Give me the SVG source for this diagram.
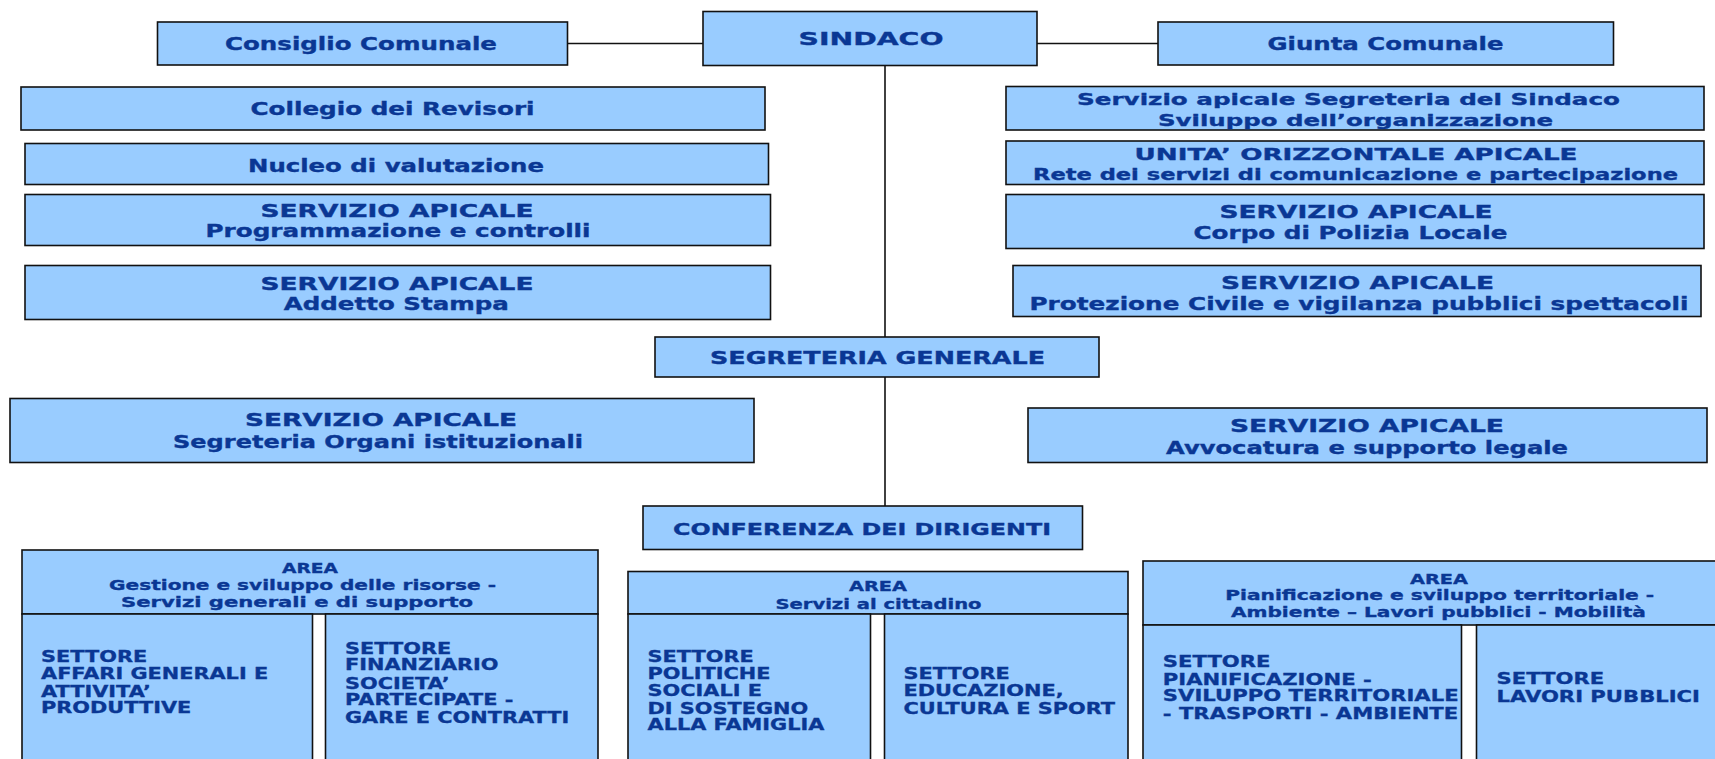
<svg xmlns="http://www.w3.org/2000/svg" width="1715" height="759" viewBox="0 0 1715 759">
<style>
.b{fill:#99ccff;stroke:#111;stroke-width:1.6}
.t{font-family:"DejaVu Sans",Verdana,sans-serif;font-weight:bold;fill:#0a3794;stroke:#0a3794;stroke-width:0.35;text-anchor:middle}
.s{font-family:"DejaVu Sans",Verdana,sans-serif;font-weight:bold;fill:#0a3794;stroke:#0a3794;stroke-width:0.3;font-size:15px}
.c{stroke:#111;stroke-width:1.6;fill:none}
</style>
<rect width="1715" height="759" fill="#fff"/>
<g id="connectors">
<line class="c" x1="567" y1="43.5" x2="703" y2="43.5"/>
<line class="c" x1="1037" y1="43.5" x2="1158" y2="43.5"/>
<line class="c" x1="885" y1="65" x2="885" y2="337"/>
<line class="c" x1="885" y1="377" x2="885" y2="506"/>
</g>
<g id="consiglio"><rect class="b" x="157.5" y="22" width="410" height="43"/><text class="t" font-size="17.5" x="361" y="50" textLength="272" lengthAdjust="spacingAndGlyphs">Consiglio Comunale</text></g>
<g id="sindaco"><rect class="b" x="703" y="11.5" width="334" height="54"/><text class="t" font-size="18.5" x="871" y="45" textLength="145" lengthAdjust="spacingAndGlyphs">SINDACO</text></g>
<g id="giunta"><rect class="b" x="1158" y="22" width="455.5" height="43"/><text class="t" font-size="17.5" x="1385.5" y="50" textLength="236" lengthAdjust="spacingAndGlyphs">Giunta Comunale</text></g>
<g id="collegio"><rect class="b" x="21" y="87" width="744" height="43"/><text class="t" font-size="17.5" x="392.5" y="115" textLength="284" lengthAdjust="spacingAndGlyphs">Collegio dei Revisori</text></g>
<g id="nucleo"><rect class="b" x="25" y="143.5" width="743.5" height="41"/><text class="t" font-size="17.5" x="396" y="171.5" textLength="296" lengthAdjust="spacingAndGlyphs">Nucleo di valutazione</text></g>
<g id="programmazione"><rect class="b" x="25" y="194.5" width="745.5" height="51"/><text class="t" font-size="17.5" x="397" y="216.8" textLength="273" lengthAdjust="spacingAndGlyphs">SERVIZIO APICALE</text><text class="t" font-size="17.5" x="398" y="237" textLength="385" lengthAdjust="spacingAndGlyphs">Programmazione e controlli</text></g>
<g id="stampa"><rect class="b" x="25" y="265.5" width="745.5" height="54"/><text class="t" font-size="17.5" x="397" y="289.8" textLength="273" lengthAdjust="spacingAndGlyphs">SERVIZIO APICALE</text><text class="t" font-size="17.5" x="396.3" y="310.3" textLength="225" lengthAdjust="spacingAndGlyphs">Addetto Stampa</text></g>
<g id="segreteria-sindaco"><rect class="b" x="1006" y="86.5" width="698" height="43.5"/><text class="t" font-size="16.5" x="1348.5" y="105" textLength="543" lengthAdjust="spacingAndGlyphs">Servizio apicale Segreteria del Sindaco</text><text class="t" font-size="16.5" x="1355.5" y="126" textLength="395" lengthAdjust="spacingAndGlyphs">Sviluppo dell’organizzazione</text></g>
<g id="unita"><rect class="b" x="1006" y="141" width="698" height="43.5"/><text class="t" font-size="16.5" x="1356" y="159.8" textLength="443" lengthAdjust="spacingAndGlyphs">UNITA’ ORIZZONTALE APICALE</text><text class="t" font-size="16" x="1355.5" y="179.5" textLength="645" lengthAdjust="spacingAndGlyphs">Rete dei servizi di comunicazione e partecipazione</text></g>
<g id="polizia"><rect class="b" x="1006" y="194.5" width="698" height="54"/><text class="t" font-size="17.5" x="1356" y="217.8" textLength="273" lengthAdjust="spacingAndGlyphs">SERVIZIO APICALE</text><text class="t" font-size="17.5" x="1350.5" y="239.3" textLength="314" lengthAdjust="spacingAndGlyphs">Corpo di Polizia Locale</text></g>
<g id="protezione"><rect class="b" x="1013" y="265.5" width="688" height="51"/><text class="t" font-size="17.5" x="1357.5" y="288.8" textLength="273" lengthAdjust="spacingAndGlyphs">SERVIZIO APICALE</text><text class="t" font-size="17.5" x="1359" y="310" textLength="659" lengthAdjust="spacingAndGlyphs">Protezione Civile e vigilanza pubblici spettacoli</text></g>
<g id="segreteria-generale"><rect class="b" x="655" y="337" width="444" height="40"/><text class="t" font-size="17.5" x="877.5" y="363.7" textLength="335" lengthAdjust="spacingAndGlyphs">SEGRETERIA GENERALE</text></g>
<g id="organi"><rect class="b" x="10" y="398.5" width="744" height="64"/><text class="t" font-size="17.5" x="381" y="426" textLength="272" lengthAdjust="spacingAndGlyphs">SERVIZIO APICALE</text><text class="t" font-size="17.5" x="378" y="447.7" textLength="410" lengthAdjust="spacingAndGlyphs">Segreteria Organi istituzionali</text></g>
<g id="avvocatura"><rect class="b" x="1028" y="408" width="679" height="54.5"/><text class="t" font-size="17.5" x="1367" y="432" textLength="274" lengthAdjust="spacingAndGlyphs">SERVIZIO APICALE</text><text class="t" font-size="17.5" x="1367" y="453.7" textLength="402" lengthAdjust="spacingAndGlyphs">Avvocatura e supporto legale</text></g>
<g id="conferenza"><rect class="b" x="643" y="506" width="439.5" height="43.5"/><text class="t" font-size="16.5" x="862" y="535" textLength="378" lengthAdjust="spacingAndGlyphs">CONFERENZA DEI DIRIGENTI</text></g>
<g id="area-gestione"><rect class="b" x="22" y="550" width="576" height="64"/><text class="t" font-size="14.5" x="310" y="572.7" textLength="56" lengthAdjust="spacingAndGlyphs">AREA</text><text class="t" font-size="14.5" x="302.5" y="590" textLength="387" lengthAdjust="spacingAndGlyphs">Gestione e sviluppo delle risorse -</text><text class="t" font-size="14.5" x="297" y="606.7" textLength="352" lengthAdjust="spacingAndGlyphs">Servizi generali e di supporto</text></g>
<g id="settore-affari"><rect class="b" x="22" y="614" width="290.5" height="160"/><text class="s" transform="translate(41,0) scale(1.39,1)"><tspan x="0" y="662">SETTORE</tspan><tspan x="0" y="679.5">AFFARI GENERALI E</tspan><tspan x="0" y="697">ATTIVITA’</tspan><tspan x="0" y="713">PRODUTTIVE</tspan></text></g>
<g id="settore-finanziario"><rect class="b" x="325.5" y="614" width="272.5" height="160"/><text class="s" transform="translate(345,0) scale(1.39,1)"><tspan x="0" y="653.6">SETTORE</tspan><tspan x="0" y="670.3">FINANZIARIO</tspan><tspan x="0" y="688.6">SOCIETA’</tspan><tspan x="0" y="705.3">PARTECIPATE -</tspan><tspan x="0" y="722.6">GARE E CONTRATTI</tspan></text></g>
<g id="area-servizi"><rect class="b" x="628" y="571.5" width="500" height="42.5"/><text class="t" font-size="14.5" x="878" y="591.3" textLength="58" lengthAdjust="spacingAndGlyphs">AREA</text><text class="t" font-size="14.5" x="878.5" y="609.3" textLength="206" lengthAdjust="spacingAndGlyphs">Servizi al cittadino</text></g>
<g id="settore-politiche"><rect class="b" x="628" y="614" width="242.5" height="160"/><text class="s" transform="translate(647.5,0) scale(1.39,1)"><tspan x="0" y="661.6">SETTORE</tspan><tspan x="0" y="679">POLITICHE</tspan><tspan x="0" y="696.3">SOCIALI E</tspan><tspan x="0" y="713.6">DI SOSTEGNO</tspan><tspan x="0" y="730.3">ALLA FAMIGLIA</tspan></text></g>
<g id="settore-educazione"><rect class="b" x="884.5" y="614" width="243.5" height="160"/><text class="s" transform="translate(903.5,0) scale(1.39,1)"><tspan x="0" y="679">SETTORE</tspan><tspan x="0" y="696.3">EDUCAZIONE,</tspan><tspan x="0" y="713.6">CULTURA E SPORT</tspan></text></g>
<g id="area-pianificazione"><rect class="b" x="1143" y="561" width="580" height="64"/><text class="t" font-size="14.5" x="1439" y="583.6" textLength="58" lengthAdjust="spacingAndGlyphs">AREA</text><text class="t" font-size="14.5" x="1439.7" y="600.3" textLength="429" lengthAdjust="spacingAndGlyphs">Pianificazione e sviluppo territoriale -</text><text class="t" font-size="14.5" x="1438.4" y="617" textLength="415" lengthAdjust="spacingAndGlyphs">Ambiente – Lavori pubblici - Mobilità</text></g>
<g id="settore-pianificazione"><rect class="b" x="1143" y="625" width="318.5" height="150"/><text class="s" transform="translate(1162.8,0) scale(1.41,1)"><tspan x="0" y="667">SETTORE</tspan><tspan x="0" y="684.6">PIANIFICAZIONE -</tspan><tspan x="0" y="701">SVILUPPO TERRITORIALE</tspan><tspan x="0" y="718.6">- TRASPORTI - AMBIENTE</tspan></text></g>
<g id="settore-lavori"><rect class="b" x="1476.5" y="625" width="250" height="150"/><text class="s" transform="translate(1496.5,0) scale(1.41,1)"><tspan x="0" y="683.6">SETTORE</tspan><tspan x="0" y="702">LAVORI PUBBLICI</tspan></text></g>
</svg>
